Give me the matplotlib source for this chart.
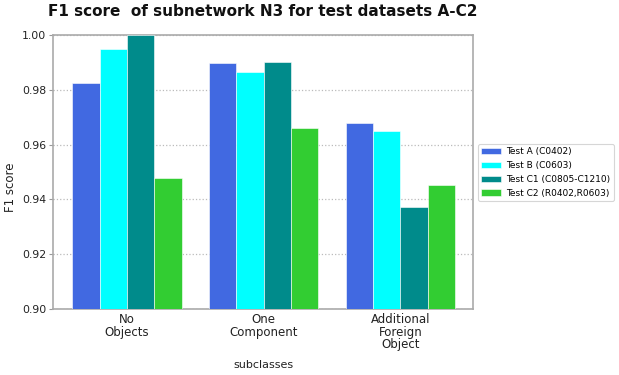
import matplotlib
matplotlib.use("Agg")
import matplotlib.pyplot as plt
import numpy as np

categories = ["No\nObjects", "One\nComponent", "Additional\nForeign\nObject"]
series_names = ["Test A (C0402)", "Test B (C0603)", "Test C1 (C0805-C1210)", "Test C2 (R0402,R0603)"]
test_a = [0.9826, 0.9899, 0.9679]
test_b = [0.9950, 0.9866, 0.9649]
test_c1 = [1.0000, 0.9900, 0.9374]
test_c2 = [0.9478, 0.9661, 0.9451]
colors = ["#4169E1", "#00FFFF", "#008B8B", "#32CD32"]
yticks = [0.90, 0.92, 0.94, 0.96, 0.98, 1.00]

fig = plt.figure(figsize=(6.19, 3.75), dpi=100)
ax = fig.add_axes([53/619, 1 - 309/375, 420/619, 274/375])

x = np.arange(len(categories))
w = 0.2
for i, (vals, name, c) in enumerate(zip([test_a, test_b, test_c1, test_c2], series_names, colors)):
    ax.bar(x + (i - 1.5) * w, vals, w, color=c, label=name, edgecolor="white", linewidth=0.4, zorder=3)

ax.set_ylim(0.90, 1.00)
ax.set_xlim(-0.54, 2.53)
ax.set_yticks(yticks)
ax.set_yticklabels([f"{v:.2f}" for v in yticks], fontsize=7.8, color="#222222")
ax.set_xticks(x)
ax.set_xticklabels(categories, fontsize=8.5, color="#222222", linespacing=0.95)
ax.tick_params(axis="y", length=3, color="#999999", width=0.8, pad=2)
ax.tick_params(axis="x", length=0, pad=3)
ax.yaxis.grid(True, linestyle=":", color="#BBBBBB", linewidth=0.9, zorder=0)
for s in ax.spines.values():
    s.set_color("#AAAAAA")
    s.set_linewidth(1.2)

ax.set_ylabel("F1 score", fontsize=8.5, color="#222222")
ax.yaxis.set_label_coords(11/619, 0.5, transform=fig.transFigure)
ax.yaxis.label.set_va("center")
ax.set_xlabel("subclasses", fontsize=8, color="#222222", labelpad=6)
fig.text(263/619, 1 - 11/375, "F1 score  of subnetwork N3 for test datasets A-C2",
         ha="center", va="center", fontsize=11, fontweight="bold", color="#111111")

leg = ax.legend(loc="upper left", bbox_to_anchor=(478/619, 1 - 144/375), bbox_transform=fig.transFigure,
                fontsize=6.5, frameon=True, borderaxespad=0, handlelength=2.2, handleheight=0.8,
                handletextpad=0.6, labelspacing=0.55, borderpad=0.35)
leg.get_frame().set_edgecolor("#CCCCCC")
leg.get_frame().set_linewidth(0.8)

fig.savefig("out.png", dpi=100)
